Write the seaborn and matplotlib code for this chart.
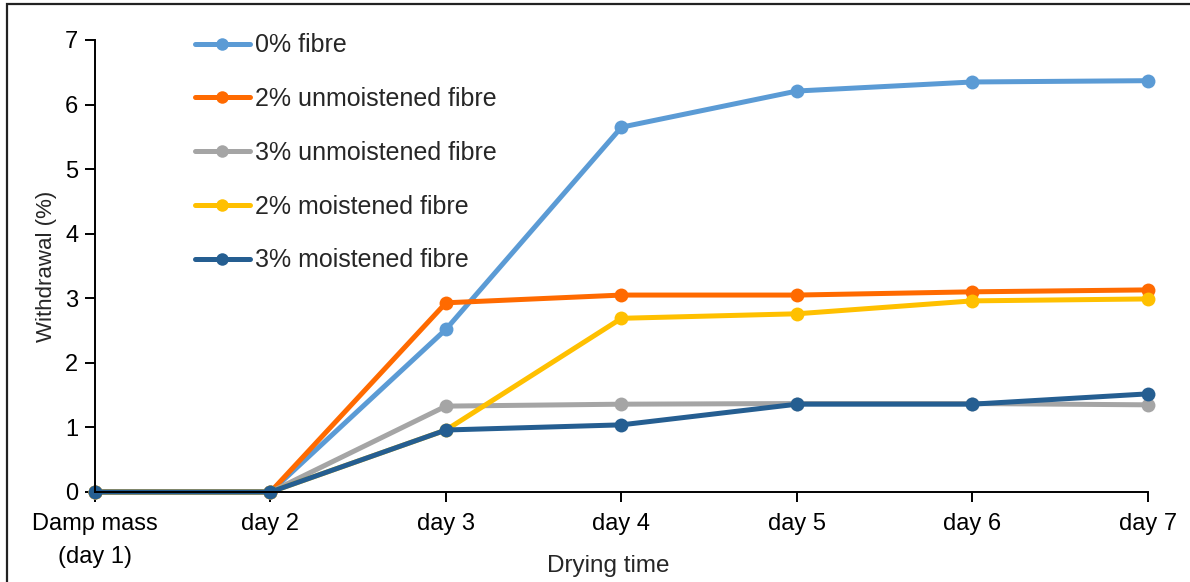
import matplotlib
matplotlib.use("Agg")
import matplotlib.pyplot as plt
import seaborn as sns
import pandas as pd
from matplotlib.patches import Rectangle

categories = ["Damp mass\n(day 1)", "day 2", "day 3", "day 4", "day 5", "day 6", "day 7"]
series_names = ["0% fibre", "2% unmoistened fibre", "3% unmoistened fibre",
                "2% moistened fibre", "3% moistened fibre"]
fibre_0 = [0, 0, 2.52, 5.65, 6.21, 6.35, 6.37]
unmoist_2 = [0, 0, 2.93, 3.05, 3.05, 3.10, 3.13]
unmoist_3 = [0, 0, 1.33, 1.36, 1.37, 1.37, 1.35]
moist_2 = [0, 0, 0.96, 2.69, 2.76, 2.96, 2.99]
moist_3 = [0, 0, 0.96, 1.04, 1.36, 1.36, 1.52]
colors = ["#5B9BD5", "#FF6A00", "#A5A5A5", "#FFC000", "#255E91"]

values = [fibre_0, unmoist_2, unmoist_3, moist_2, moist_3]
rows = []
for name, vals in zip(series_names, values):
    for i, v in enumerate(vals):
        rows.append({"pos": i, "value": v, "series": name})
df = pd.DataFrame(rows)

sns.set_theme(style="white")
plt.rcParams["font.family"] = ["Liberation Sans", "DejaVu Sans"]

fig = plt.figure(figsize=(11.9, 5.82), dpi=100)
ax = fig.add_axes([95/1190, 1-492/582, (1148-95)/1190, (492-40)/582])

for name, col in zip(series_names, colors):
    sub = df[df["series"] == name]
    sns.lineplot(data=sub, x="pos", y="value", ax=ax, color=col, linewidth=3.6,
                 marker="o", markersize=10, markeredgewidth=0, label=name,
                 sort=False, clip_on=False)

ax.set_xlim(0, 6)
ax.set_ylim(0, 7)
ax.set_xticks(range(len(categories)))
ax.set_xticklabels(categories, fontsize=17, linespacing=1.65)
ax.set_yticks(range(0, 8))
ax.set_yticklabels([str(v) for v in range(0, 8)], fontsize=17)
ax.set_xlabel("Drying time", fontsize=17.5)
ax.xaxis.set_label_coords(0.487, -0.14)
ax.set_ylabel("Withdrawal (%)", fontsize=16)
ax.yaxis.set_label_coords(-0.036, 0.5)

for s in ["top", "right"]:
    ax.spines[s].set_visible(False)
for s in ["left", "bottom"]:
    ax.spines[s].set_color("black")
    ax.spines[s].set_linewidth(1.4)
ax.tick_params(axis="both", direction="out", length=7, width=1.4, color="black",
               labelcolor="black", left=True, bottom=True)
ax.tick_params(axis="x", pad=8)
ax.tick_params(axis="y", pad=5)

leg = ax.legend(loc="upper left", bbox_to_anchor=(0.0854, 1.037), frameon=False,
                fontsize=18, labelspacing=1.19, handlelength=2.2, handletextpad=0.2,
                borderaxespad=0, markerscale=0.9)

fig.patches.append(Rectangle((7/1190, -0.1), 1.2, 1 - 3.5/582 + 0.1,
                             transform=fig.transFigure, fill=False,
                             edgecolor="#222222", linewidth=1.6))

fig.savefig("out.png", dpi=100)
